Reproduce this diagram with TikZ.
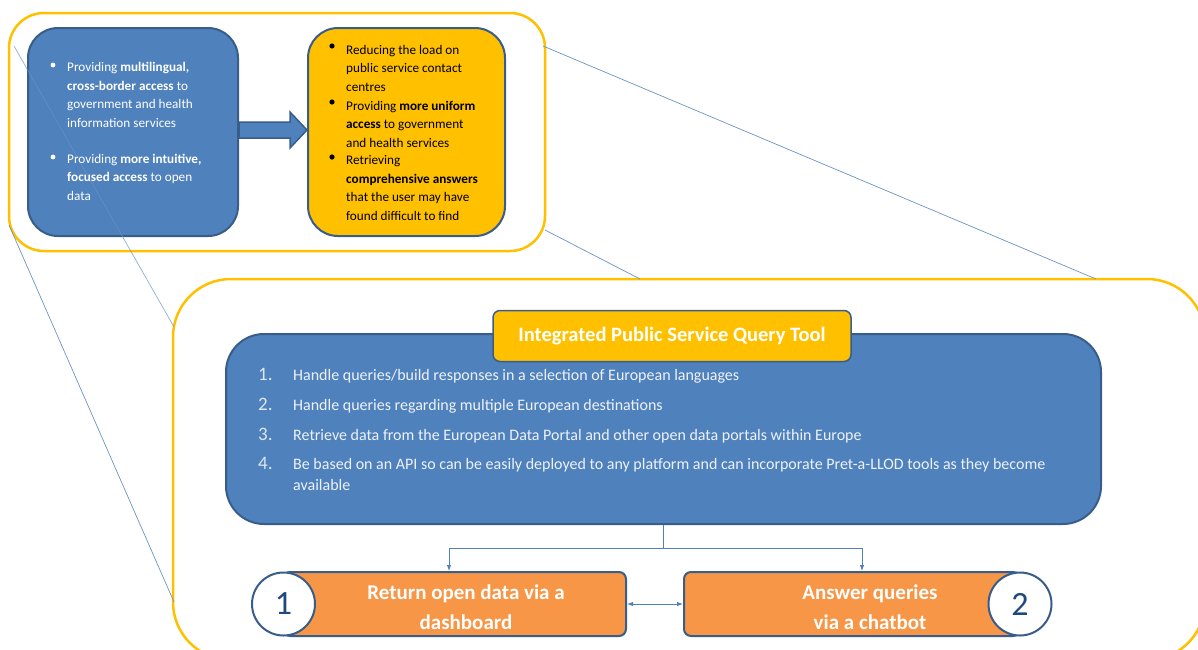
\documentclass[tikz,border=0pt]{standalone}
\usepackage{fontspec}
\setmainfont{Carlito}
\usetikzlibrary{positioning,calc,arrows.meta}

\definecolor{boxblue}{HTML}{4F81BD}
\definecolor{edgeblue}{HTML}{385D8A}
\definecolor{frameyellow}{HTML}{FFC000}
\definecolor{boxorange}{HTML}{F79646}
\definecolor{numblue}{HTML}{1F497D}
\definecolor{paletext}{HTML}{EEF2F8}

\begin{document}
\begin{tikzpicture}[x=1pt, y=-1pt,
    zoomframe/.style={draw=frameyellow, line width=2.5pt, rounded corners=#1, inner sep=0pt},
    rbox/.style={draw=edgeblue, line width=2pt, rounded corners=#1, inner sep=0pt},
    zoomline/.style={draw=boxblue!85, line width=0.7pt},
    link/.style={draw=boxblue, line width=0.9pt, -{Latex[length=6pt,width=4.5pt]}},
    bodytext/.style={font=\fontsize{13.2}{18.4}\selectfont, align=left, anchor=base west, inner sep=0pt},
    listtext/.style={font=\fontsize{16}{21}\selectfont, text=paletext, align=left, anchor=base west, inner sep=0pt},
    listnum/.style={font=\fontsize{19}{21}\selectfont, text=paletext!90!boxblue, anchor=base west, inner sep=0pt},
    bodybox/.style={rbox=7, fill=boxorange, minimum height=64pt},
    endcap/.style={circle, draw=edgeblue, line width=2pt, fill=white, minimum size=63pt, inner sep=0pt, font=\fontsize{34}{34}\selectfont, text=numblue},
    captext/.style={font=\bfseries\fontsize{21}{30}\selectfont, text=white, align=center, inner sep=0pt}
  ]
  \useasboundingbox (0,0) rectangle (1198,649);

  % Cadres
  \node[zoomframe=35, minimum width=536pt, minimum height=238pt] (topframe) at (277,132) {};
  \node[zoomframe=58, minimum width=1032pt, minimum height=381pt] (bigframe) at (689,469.5) {};

  % Boites du haut
  \node[rbox=30, fill=boxblue, minimum width=210pt, minimum height=208pt] (needs) at (133,132) {};
  \node[rbox=30, fill=frameyellow, minimum width=197pt, minimum height=208pt] (benefits) at (406.5,132) {};

  % Fleche entre les boites
  \draw[fill=boxblue, draw=edgeblue, line width=1.5pt]
    ($(needs.east)+(0,-10)$) -- ($(benefits.west)+(-17,-10)$) -- ($(benefits.west)+(-17,-20)$)
    -- ($(benefits.west)+(0,-2)$) -- ($(benefits.west)+(-17,16)$) -- ($(benefits.west)+(-17,6)$)
    -- ($(needs.east)+(0,6)$) -- cycle;

  % Lignes de zoom
  \coordinate (zoomA) at (14,46);
  \coordinate (zoomB) at (9,225);
  \coordinate (zoomC) at (543,46);
  \coordinate (zoomD) at (545,230);
  \coordinate (landA) at (174,327);
  \coordinate (landB) at (174,602);
  \coordinate (landC) at (1096,279);
  \coordinate (landD) at (640,279);
  \draw[zoomline, opacity=0.75] (zoomA) -- (landA);
  \draw[zoomline] (zoomB) -- (landB);
  \draw[zoomline] (zoomC) -- (landC);
  \draw[zoomline] (zoomD) -- (landD);

  % Texte de la boite bleue (ancre sur la derniere ligne)
  \fill[white] (53,65) circle (2.4);
  \fill[white] (53,157) circle (2.4);
  \node[bodytext, text=white] (needA) at (67,127)
    {Providing \textbf{multilingual,}\\\textbf{cross-border access} to\\government and health\\information services};
  \node[bodytext, text=white] (needB) at (67,200)
    {Providing \textbf{more intuitive,}\\\textbf{focused access} to open\\data};

  % Texte de la boite jaune
  \fill[black] (332,46) circle (2.6);
  \fill[black] (332,102) circle (2.6);
  \fill[black] (332,157) circle (2.6);
  \node[bodytext] (gainA) at (346,91)
    {Reducing the load on\\public service contact\\centres};
  \node[bodytext] (gainB) at (346,147)
    {Providing \textbf{more uniform}\\\textbf{access} to government\\and health services};
  \node[bodytext] (gainC) at (346,220)
    {Retrieving\\\textbf{comprehensive answers}\\that the user may have\\found difficult to find};

  % Outil
  \node[rbox=38, fill=boxblue, minimum width=875pt, minimum height=190pt] (query) at (663.5,429) {};
  \node[rbox=7, line width=1.5pt, fill=frameyellow, minimum width=358pt, minimum height=51pt,
        text=white, font=\bfseries\fontsize{20.5}{22}\selectfont] (title) at (672,336)
    {Integrated Public Service Query Tool};

  \node[listnum] (numA) at (258,380) {1.};
  \node[listnum] (numB) at (258,410) {2.};
  \node[listnum] (numC) at (258,440) {3.};
  \node[listnum] (numD) at (258,469) {4.};
  \node[listtext] (itemA) at (293,380) {Handle queries/build responses in a selection of European languages};
  \node[listtext] (itemB) at (293,410) {Handle queries regarding multiple European destinations};
  \node[listtext] (itemC) at (293,440) {Retrieve data from the European Data Portal and other open data portals within Europe};
  \node[listtext] (itemD) at (293,490) {Be based on an API so can be easily deployed to any platform and can incorporate Pret-a-LLOD tools as they become\\available};

  % Sorties
  \node[bodybox, minimum width=343pt] (retbody) at (454.5,604) {};
  \node[endcap] (retcap) at (283.5,604) {1};
  \node[captext] (rettext) at (466,607) {Return open data via a\\dashboard};

  \node[bodybox, minimum width=336pt] (ansbody) at (852,604) {};
  \node[endcap] (anscap) at (1020,604) {2};
  \node[captext] (anstext) at (870,607) {Answer queries\\via a chatbot};

  % Connecteurs
  \coordinate (split) at (663.5,548);
  \draw[link, -] (query.south) -- (split);
  \draw[link] (split) -| ([xshift=-5.5pt]retbody.north);
  \draw[link] (split) -| ([xshift=10pt]ansbody.north);
  \draw[link, {Latex[length=6pt,width=4.5pt]}-{Latex[length=6pt,width=4.5pt]}] (retbody.east) -- (ansbody.west);
\end{tikzpicture}
\end{document}
